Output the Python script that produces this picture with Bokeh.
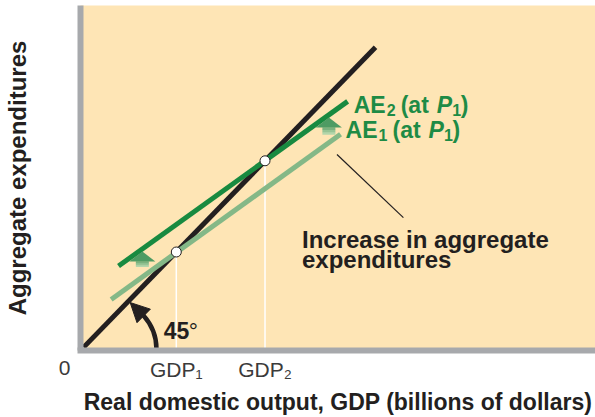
from bokeh.plotting import figure
from bokeh.models import Range1d, Arrow, NormalHead, FixedTicker
from bokeh.core.properties import value
from bokeh.embed import file_html
from bokeh.resources import INLINE

# ---------------- data ----------------
line45_x = [0.6, 58.2]          # 45-degree line
line45_y = [0.6, 58.2]
ae1_x = [6.05, 51.3]            # AE1 (at P1)
ae1_y = [9.8, 41.5]
ae2_x = [7.5, 52.7]             # AE2 (at P1)
ae2_y = [16.2, 47.8]
eq_x = [18.9, 36.4]             # equilibria GDP1, GDP2
eq_y = [18.9, 36.4]
eq_labels = ["GDP\u2081", "GDP\u2082"]
zero_label = "\n0"
shift_x = [12.2, 49.0]          # upward-shift arrows
shift_bottom = [16.0, 41.4]
shift_top = [19.0, 44.7]
pointer_x = [50.6, 63.7]        # pointer line to the note
pointer_y = [37.6, 25.5]
note_x = 43.7
note_y = [21.3, 17.5]
note_lines = ["Increase in aggregate", "expenditures"]
ae_lab_x = [53.9, 52.3]
ae_lab_y = [47.1, 42.4]
ae_lab_sub = ["2", "1"]
angle_center = (4.93, 0.19)     # 45° arc marker
angle_tip = (9.8, 9.2)
angle_start = (12.4, 6.7)
angle_text_x = 16.4
angle_text_y = 3.75

X_END, Y_END = 101.6, 66.2
FRAME_W, FRAME_H = 515, 348
sxp = FRAME_W / X_END
syp = FRAME_H / Y_END

BEIGE = "#FEE5B5"
GRAY = "#A7A9AC"
INK = "#231F20"
DKGREEN = "#188A40"
LTGREEN = "#84B887"
TXTGREEN = "#1E8B45"
TICK = "#3B3B3B"
FONT = value("Liberation Sans")

p = figure(width=595, height=417, x_range=Range1d(0, X_END), y_range=Range1d(0, Y_END),
           output_backend="svg", toolbar_location=None,
           min_border_left=80, min_border_right=0, min_border_top=5, min_border_bottom=64)
p.grid.visible = False
p.background_fill_color = BEIGE
p.border_fill_color = "white"
p.outline_line_color = None

for ax in (p.xaxis[0], p.yaxis[0]):
    ax.major_tick_line_color = None
    ax.minor_tick_line_color = None
    ax.major_tick_out = 0
    ax.major_tick_in = 0
    ax.minor_tick_out = 0
    ax.minor_tick_in = 0
    ax.major_label_text_font = "Liberation Sans"
    ax.major_label_text_font_size = "21px"
    ax.major_label_text_color = TICK
    ax.axis_line_color = GRAY
    ax.axis_line_width = 6
    ax.axis_label_text_font = "Liberation Sans"
    ax.axis_label_text_font_style = "bold"
    ax.axis_label_text_color = INK

xa = p.xaxis[0]
xa.ticker = FixedTicker(ticks=eq_x)
xa.major_label_overrides = {eq_x[0]: eq_labels[0], eq_x[1]: eq_labels[1]}
xa.major_label_standoff = 7
xa.axis_line_cap = "square"
xa.axis_label = "Real domestic output, GDP (billions of dollars)"
xa.axis_label_text_font_size = "23px"
xa.axis_label_standoff = 5

ya = p.yaxis[0]
ya.ticker = FixedTicker(ticks=[0])
ya.major_label_overrides = {0: zero_label}
ya.major_label_text_line_height = 1.5
ya.major_label_standoff = 10
ya.axis_label = "Aggregate expenditures"
ya.axis_label_text_font_size = "24px"
ya.axis_label_standoff = 25

# white drop lines
p.segment(x0=eq_x, y0=[0, 0], x1=eq_x, y1=eq_y, line_color="white", line_width=1.5)

# lines
p.line(line45_x, line45_y, line_color=INK, line_width=5)
p.line(ae1_x, ae1_y, line_color=LTGREEN, line_width=5)
p.line(ae2_x, ae2_y, line_color=DKGREEN, line_width=5)

# shift arrows (gradient approximated by bands)
head_len = 10 / syp
head_hw = 13 / sxp
body_hw = 6.5 / sxp
band_cols = ["#B3D6AB", "#96C495", "#7AB27F"]
hx, hy, bx, by, bc = [], [], [], [], []
for x, b, t in zip(shift_x, shift_bottom, shift_top):
    hb = t - head_len
    hx.append([x - head_hw, x, x + head_hw])
    hy.append([hb, t, hb])
    n = len(band_cols)
    for k in range(n):
        y0 = b + (hb - b) * k / n
        y1 = b + (hb - b) * (k + 1) / n + 0.05
        bx.append([x - body_hw, x + body_hw, x + body_hw, x - body_hw])
        by.append([y0, y0, y1, y1])
        bc.append(band_cols[k])
p.patches(bx, by, fill_color=bc, line_color=None)
p.patches(hx, hy, fill_color="#4E9B63", line_color=None)

# pointer line
p.line(pointer_x, pointer_y, line_color=INK, line_width=1.2)

# equilibrium points
p.scatter(eq_x, eq_y, size=10, fill_color="white", line_color=INK, line_width=1)

# 45° marker
p.arc(x=[angle_center[0]], y=[angle_center[1]], radius=51, radius_units="screen",
      start_angle=-0.05, end_angle=0.73, line_color=INK, line_width=4.5)
p.add_layout(Arrow(end=NormalHead(size=19, fill_color=INK, line_color=INK, line_width=1),
                   x_start=angle_start[0], y_start=angle_start[1],
                   x_end=angle_tip[0], y_end=angle_tip[1], line_color=INK, line_width=4))
p.text(x=[angle_text_x], y=[angle_text_y], text=["45"], text_font=FONT, text_font_style="bold",
       text_font_size="23px", text_color=INK, text_baseline="alphabetic")
p.text(x=[angle_text_x], y=[angle_text_y], text=["°"], text_font=FONT, text_font_style="normal",
       text_font_size="23px", text_color=INK, text_baseline="alphabetic", x_offset=25)

# note
p.text(x=[note_x, note_x], y=note_y, text=note_lines, text_font=FONT, text_font_style="bold",
       text_font_size="24px", text_color=INK, text_baseline="alphabetic")

# AE labels
common = dict(text_font=FONT, text_color=TXTGREEN, text_baseline="alphabetic")
p.text(x=ae_lab_x, y=ae_lab_y, text=["AE", "AE"], text_font_style="bold", text_font_size="23px", **common)
p.text(x=ae_lab_x, y=ae_lab_y, text=ae_lab_sub, text_font_style="bold", text_font_size="16px",
       x_offset=33, y_offset=5, **common)
p.text(x=ae_lab_x, y=ae_lab_y, text=["(at", "(at"], text_font_style="bold", text_font_size="23px",
       x_offset=47, **common)
p.text(x=ae_lab_x, y=ae_lab_y, text=["P", "P"], text_font_style="bold italic", text_font_size="23px",
       x_offset=83, **common)
p.text(x=ae_lab_x, y=ae_lab_y, text=["1", "1"], text_font_style="bold", text_font_size="16px",
       x_offset=98.5, y_offset=5, **common)
p.text(x=ae_lab_x, y=ae_lab_y, text=[")", ")"], text_font_style="bold", text_font_size="23px",
       x_offset=107, **common)

open("out.html", "w").write(file_html(p, INLINE))
